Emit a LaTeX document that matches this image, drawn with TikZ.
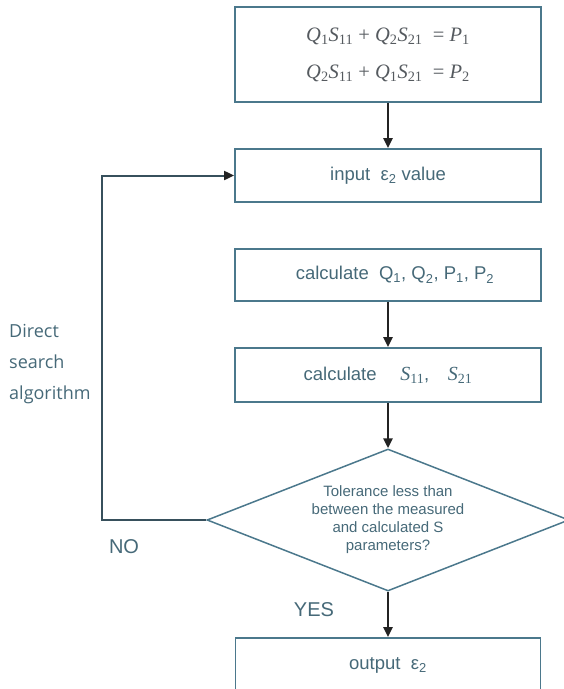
\documentclass[tikz,border=0pt]{standalone}
\usepackage{fontspec}
\setmainfont{Liberation Sans}
\newfontfamily\tms{Liberation Serif}
\newfontfamily\osans{Open Sans}
\usetikzlibrary{arrows.meta,shapes.geometric}
\definecolor{bord}{RGB}{75,120,140}
\definecolor{txt}{RGB}{70,105,120}
\definecolor{eqc}{RGB}{85,90,95}
\definecolor{arr}{RGB}{35,35,35}
\definecolor{loopc}{RGB}{55,80,92}
\newcommand{\mv}[2]{{\itshape #1}\textsubscript{#2}}
\tikzset{
  box/.style={draw=bord, line width=1.8pt, minimum width=306pt, inner sep=0pt,
    text=txt, font=\fontsize{18.5}{22}\selectfont},
  flow/.style={draw=arr, line width=2.7pt, -{Triangle[length=10pt,width=9pt]}},
  loopline/.style={draw=loopc, line width=2pt, -{Triangle[length=10pt,width=9pt,fill=arr,color=arr]}},
  lbl/.style={text=txt, inner sep=0pt}
}
\begin{document}
\begin{tikzpicture}[x=1pt,y=-1pt]
\useasboundingbox (0,0) rectangle (564,689);
\clip (0,0) rectangle (564,689);

\node[box, minimum height=95pt, text=eqc, align=center,
  font=\tms\fontsize{20.5}{37}\selectfont] (b1) at (388,54.5)
  {\mv{Q}{1}\mv{S}{11} + \mv{Q}{2}\mv{S}{21} \ = \mv{P}{1}\\
   \mv{Q}{2}\mv{S}{11} + \mv{Q}{1}\mv{S}{21} \ = \mv{P}{2}};
\node[box, minimum height=53pt] (b2) at (388,175.5) {input \ ε\textsubscript{2} value};
\node[box, minimum height=52pt] (b3) at (388,275)
  {\hspace{14pt}calculate \ Q\textsubscript{1}, Q\textsubscript{2}, P\textsubscript{1}, P\textsubscript{2}};
\node[box, minimum height=54pt] (b4) at (388,375)
  {calculate \quad {\tms\fontsize{20}{22}\selectfont\mv{S}{11}},\quad {\tms\fontsize{20}{22}\selectfont\mv{S}{21}}};
\node[diamond, draw=bord, line width=1.5pt, minimum width=362pt, minimum height=142pt,
  aspect=2.55, inner sep=0pt, text=txt, font=\fontsize{15}{18}\selectfont]
  (dia) at (388,520) {\raisebox{-6pt}{\begin{tabular}{@{}c@{}}Tolerance less than\\between the measured\\and calculated S\\parameters?\end{tabular}}};
\node[box, minimum height=54pt, minimum width=305pt] (b5) at (388,665) {output \ ε\textsubscript{2}};

\draw[flow] (b1.south) -- (b2.north);
\draw[flow] (b3.south) -- (b4.north);
\draw[flow] (b4.south) -- (dia.north);
\draw[flow] (dia.south) -- (b5.north);

\coordinate (lc) at (102,520);
\draw[loopline] (dia.west) -- (lc) |- (b2.west);

\node[lbl, anchor=west, align=left, font=\osans\fontsize{18}{31}\selectfont] (dsa) at (9,364)
  {Direct\\search\\algorithm};
\node[lbl, font=\fontsize{20}{24}\selectfont] (no) at (124,547) {NO};
\node[lbl, font=\fontsize{20}{24}\selectfont] (yes) at (314,610) {YES};
\end{tikzpicture}
\end{document}
